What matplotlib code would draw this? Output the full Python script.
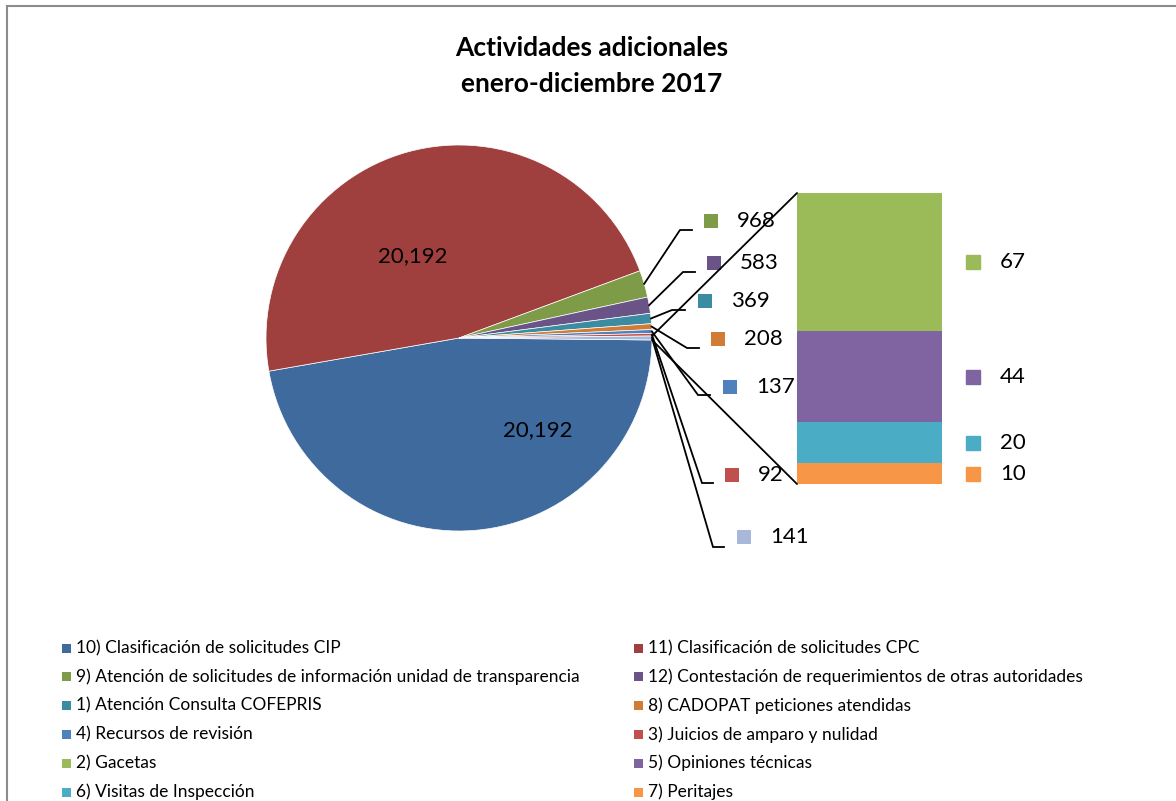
import matplotlib.pyplot as plt
from matplotlib.patches import Rectangle, ConnectionPatch
from matplotlib.transforms import blended_transform_factory
import numpy as np

plt.rcParams['font.family'] = ['Lato', 'DejaVu Sans']

W, H = 1176, 801

# pie series, clockwise from the right
pie_labels = [
    "10) Clasificación de solicitudes CIP",
    "11) Clasificación de solicitudes CPC",
    "9) Atención de solicitudes de información unidad de transparencia",
    "12) Contestación de requerimientos de otras autoridades",
    "1) Atención Consulta COFEPRIS",
    "8) CADOPAT peticiones atendidas",
    "4) Recursos de revisión",
    "3) Juicios de amparo y nulidad",
]
pie_values = [20192, 20192, 968, 583, 369, 208, 137, 92]
pie_colors = ["#3f6a9d", "#a0403e", "#7e9b48", "#6a5487",
              "#3b8ca1", "#d07b36", "#4f81bd", "#c0504d"]

# series split off into the stacked bar
bar_labels = ["2) Gacetas", "5) Opiniones técnicas",
              "6) Visitas de Inspección", "7) Peritajes"]
bar_values = [67, 44, 20, 10]
bar_colors = ["#9bbb59", "#8064a2", "#4bacc6", "#f79646"]
other_color = "#a9b8d8"

fig = plt.figure(figsize=(W / 100, H / 100), dpi=100)
ax = fig.add_axes([0, 0, 1, 1])

# outer frame
ax.add_patch(Rectangle((7, -20), W + 20, H - 6 + 20, fill=False,
                       edgecolor="#8c8c8c", lw=1.5))

ax.text(592, H - 48, "Actividades adicionales", ha="center", va="center",
        fontsize=19, fontweight="bold")
ax.text(592, H - 84, "enero-diciembre 2017", ha="center", va="center",
        fontsize=19, fontweight="bold")

# pie with the "other" slice centred on the right
other = sum(bar_values)
values = pie_values + [other]
colors = pie_colors + [other_color]
total = sum(values)
cx, cy, r = 459, H - 338, 193
start = -other / total * 360 / 2
wedges, _ = ax.pie(values, colors=colors, startangle=start, counterclock=False,
                   center=(cx, cy), radius=r,
                   wedgeprops=dict(edgecolor="white", linewidth=0.5))
ax.set_xlim(0, W)
ax.set_ylim(0, H)
ax.set_aspect("equal")
ax.axis("off")

ax.text(413, H - 256, f"{pie_values[1]:,}", ha="center", va="center", fontsize=16)
ax.text(538, H - 430, f"{pie_values[0]:,}", ha="center", va="center", fontsize=16)

# leader lines and labels for the thin slices: elbow x, elbow y, line end x, key x, key y
label_spots = [
    (680, 230, 692, 711, 221),
    (683, 272, 695, 714, 263),
    (672, 310, 685, 705, 301),
    (687, 348, 699, 718, 339),
    (698, 395, 710, 730, 387),
    (702, 483, 713, 732, 475),
    (713, 547, 724, 744, 537),
]
for i, (ex, ey, lx, kx, ky) in zip(range(2, len(values)), label_spots):
    w = wedges[i]
    mid = np.deg2rad((w.theta1 + w.theta2) / 2)
    px, py = cx + r * np.cos(mid), cy + r * np.sin(mid)
    ax.plot([px, ex, lx], [py, H - ey, H - ey], color="black", lw=1.3,
            solid_joinstyle="miter")
    ax.add_patch(Rectangle((kx - 7, H - ky - 7), 14, 14, color=colors[i], lw=0))
    ax.text(kx + 26, H - ky, f"{values[i]:,}", ha="left", va="center", fontsize=16)

# stacked bar of the "other" slice
bx = fig.add_axes([797 / W, (H - 484) / H, 145 / W, 291 / H])
bx.set_xlim(-0.5, 0.5)
bx.set_ylim(0, other)
bx.axis("off")
tr = blended_transform_factory(bx.transAxes, bx.transData)
bottom = 0
for v, c in zip(bar_values[::-1], bar_colors[::-1]):
    bx.bar(0, v, bottom=bottom, width=1, color=c, lw=0)
    mid = bottom + v / 2
    bx.plot([1.214], [mid], marker="s", ms=10.5, color=c, mec=c,
            transform=tr, clip_on=False)
    bx.text(1.40, mid, f"{v}", ha="left", va="center", fontsize=16,
            transform=tr)
    bottom += v

# connectors from the other slice to the bar
w = wedges[-1]
for ang, yb in [(w.theta2, other), (w.theta1, 0)]:
    a = np.deg2rad(ang)
    con = ConnectionPatch(xyA=(cx + r * np.cos(a), cy + r * np.sin(a)),
                          coordsA=ax.transData, xyB=(-0.5, yb),
                          coordsB=bx.transData, color="black", lw=1.3)
    fig.add_artist(con)

# legend, filled row by row
legend_labels = pie_labels + bar_labels
legend_colors = pie_colors + bar_colors
for i, (lab, c) in enumerate(zip(legend_labels, legend_colors)):
    col, row = i % 2, i // 2
    x0 = [62, 634][col]
    y0 = H - (648 + 28.8 * row)
    ax.add_patch(Rectangle((x0, y0 - 4.5), 9, 9, color=c, lw=0))
    ax.text(x0 + 14, y0, lab, ha="left", va="center", fontsize=12.5)

fig.savefig("out.png", dpi=100)
